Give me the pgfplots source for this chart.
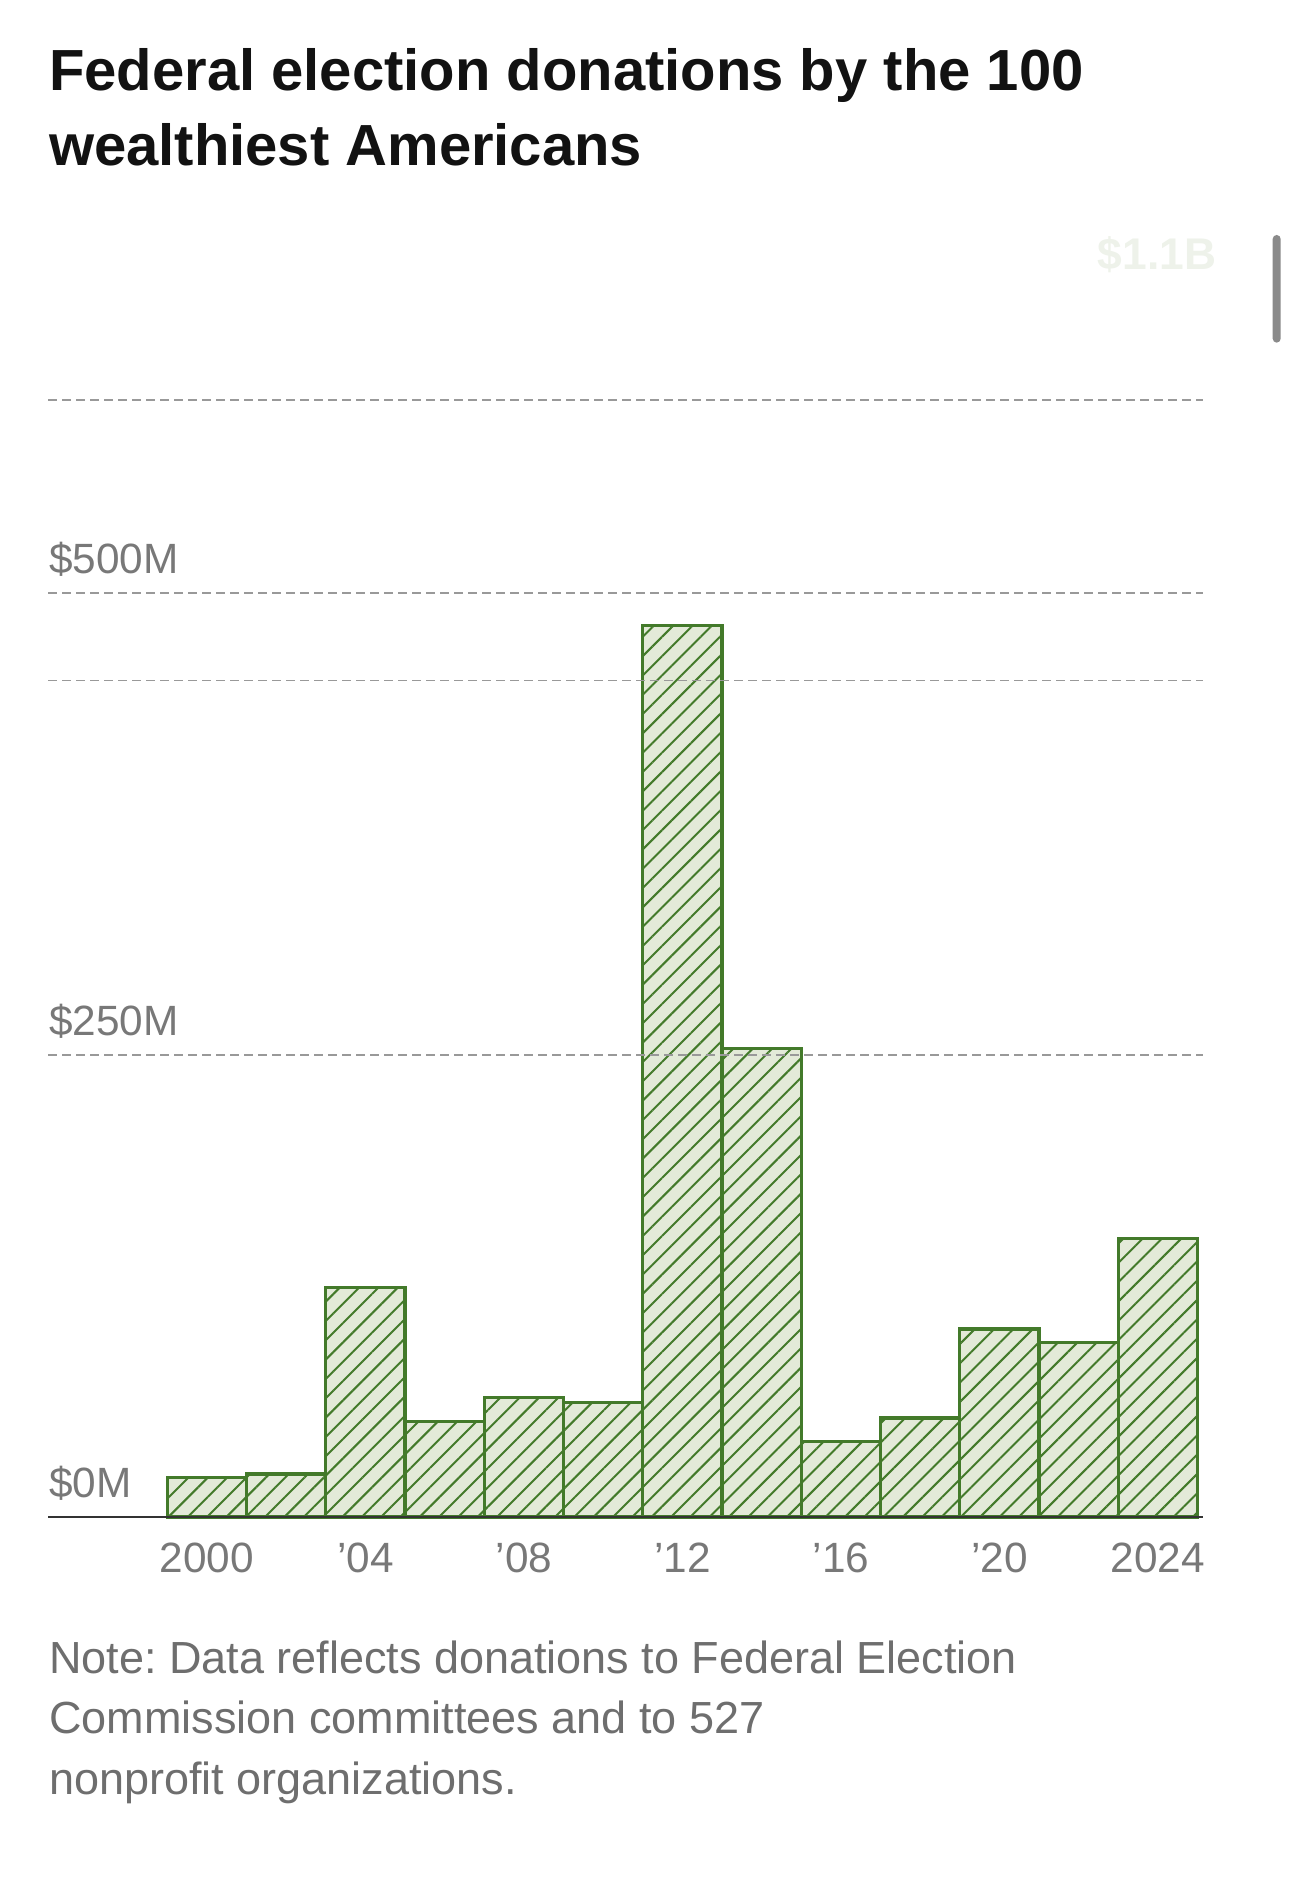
\documentclass[border=0pt]{standalone}
\usepackage{fontspec}
\setmainfont{Liberation Sans}
\frenchspacing
\usepackage{pgfplots}
\pgfplotsset{compat=1.18}
\usetikzlibrary{patterns.meta}
\definecolor{barline}{HTML}{437A2A}
\definecolor{barfill}{HTML}{E3EAD8}
\definecolor{gridc}{HTML}{999999}
\definecolor{lab}{HTML}{787878}
\definecolor{notec}{HTML}{6E6E6E}
\definecolor{faint}{HTML}{EEF2EA}
\definecolor{scroll}{HTML}{8A8A8A}
\begin{document}
\begin{tikzpicture}
\path[use as bounding box, fill=white] (0,0) rectangle (387pt,569.4pt);
% title
\node[anchor=base west, inner sep=0pt, text=black!93] at (14.52pt,542.1pt) {\fontsize{17.4pt}{20pt}\selectfont\bfseries Federal election donations by the 100};
\node[anchor=base west, inner sep=0pt, text=black!93] at (14.52pt,519.6pt) {\fontsize{17.4pt}{20pt}\selectfont\bfseries wealthiest Americans};
% faint label and scrollbar
\node[anchor=base, inner sep=0pt, text=faint] at (347.1pt,488.5pt) {\fontsize{13.3pt}{15pt}\selectfont\bfseries \$1.1B};
\fill[scroll, rounded corners=1.2pt] (381.8pt,466.6pt) rectangle (384.2pt,498.9pt);
\begin{axis}[
  at={(14.52pt,114.3pt)}, anchor=south west,
  scale only axis,
  width=346.4pt, height=360.4pt,
  xmin=-2, xmax=12.57,
  ymin=0, ymax=650,
  axis on top,
  axis x line*=bottom,
  axis y line*=left,
  y axis line style={draw=none},
  x axis line style={draw=black!80, line width=0.6pt, -},
  major tick length=0pt,
  xtick={0,2,4,6,8,10,12},
  xticklabels={2000,’04,’08,’12,’16,’20,2024},
  xticklabel style={anchor=base, yshift=-16.8pt, text=lab, font=\fontsize{12.7pt}{14pt}\selectfont},
  ytick={250,500},
  yticklabels={,},
  extra y ticks={452.6,604.3},
  extra y tick labels={,},
  extra y tick style={grid=major},
  ymajorgrids,
  grid style={draw=gridc, line width=0.5pt, dash pattern=on 2.6pt off 1.6pt},
  clip=false,
]
\addplot[ybar, bar width=1, draw=none, fill=barfill]
coordinates {
(0,21.5) (1,23.3) (2,124.3) (3,51.5) (4,64.5) (5,61.8) (6,482.5)
(7,253.5) (8,40.9) (9,53.6) (10,101.7) (11,94.5) (12,150.6)
};
\addplot[ybar, bar width=1, draw=barline, line width=1pt,
  pattern={Lines[angle=45,distance=4.1pt,line width=0.6pt]}, pattern color=barline]
coordinates {
(0,21.5) (1,23.3) (2,124.3) (3,51.5) (4,64.5) (5,61.8) (6,482.5)
(7,253.5) (8,40.9) (9,53.6) (10,101.7) (11,94.5) (12,150.6)
};
\node[anchor=base west, inner sep=0pt, text=lab, font=\fontsize{12.7pt}{14pt}\selectfont] at (axis cs:-2,0) [yshift=5.7pt] {\$0M};
\node[anchor=base west, inner sep=0pt, text=lab, font=\fontsize{12.7pt}{14pt}\selectfont] at (axis cs:-2,250) [yshift=5.7pt] {\$250M};
\node[anchor=base west, inner sep=0pt, text=lab, font=\fontsize{12.7pt}{14pt}\selectfont] at (axis cs:-2,500) [yshift=5.7pt] {\$500M};
\end{axis}
% note
\node[anchor=base west, inner sep=0pt, text=notec] at (14.52pt,67.4pt) {\fontsize{13.5pt}{16pt}\selectfont Note: Data reflects donations to Federal Election};
\node[anchor=base west, inner sep=0pt, text=notec] at (14.52pt,49.2pt) {\fontsize{13.5pt}{16pt}\selectfont Commission committees and to 527};
\node[anchor=base west, inner sep=0pt, text=notec] at (14.52pt,31.1pt) {\fontsize{13.5pt}{16pt}\selectfont nonprofit organizations.};
\end{tikzpicture}
\end{document}
